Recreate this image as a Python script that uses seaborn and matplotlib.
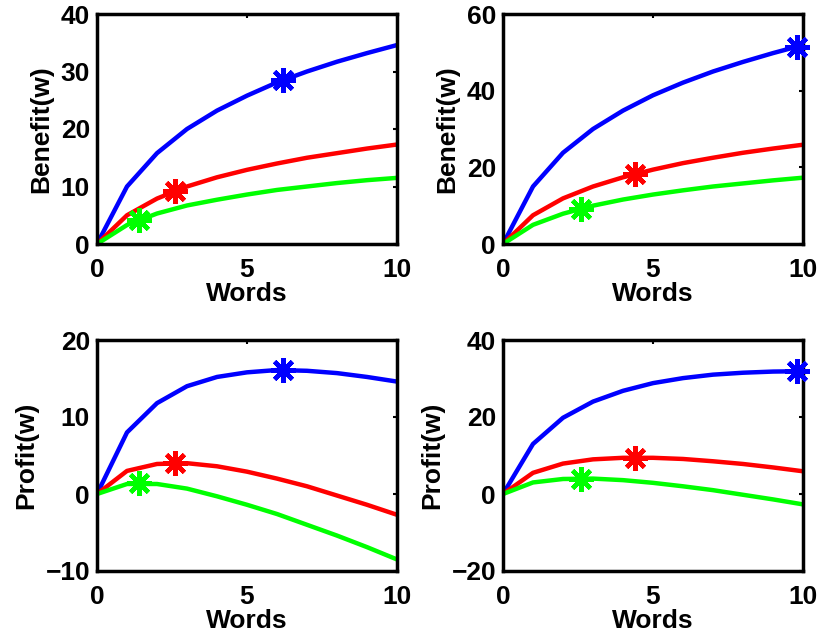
import numpy as np
import pandas as pd
import matplotlib
matplotlib.use('Agg')
import matplotlib.pyplot as plt
import seaborn as sns

# number of words (x axis)
words = [0, 1, 2, 3, 4, 5, 6, 7, 8, 9, 10]

# benefit curves, left panel
ben_left_blue = [0, 10.0, 15.8, 20.0, 23.2, 25.8, 28.1, 30.0, 31.7, 33.2, 34.6]
ben_left_red = [0, 5.0, 7.9, 10.0, 11.6, 12.9, 14.0, 15.0, 15.8, 16.6, 17.3]
ben_left_green = [0, 3.3, 5.3, 6.7, 7.7, 8.6, 9.4, 10.0, 10.6, 11.1, 11.5]

# benefit curves, right panel
ben_right_blue = [0, 15.0, 23.8, 30.0, 34.8, 38.8, 42.1, 45.0, 47.5, 49.8, 51.9]
ben_right_red = [0, 7.5, 11.9, 15.0, 17.4, 19.4, 21.1, 22.5, 23.8, 24.9, 25.9]
ben_right_green = [0, 5.0, 7.9, 10.0, 11.6, 12.9, 14.0, 15.0, 15.8, 16.6, 17.3]

# profit curves
prof_left_blue = [0, 8.0, 11.8, 14.0, 15.2, 15.8, 16.1, 16.0, 15.7, 15.2, 14.6]
prof_left_red = [0, 3.0, 3.9, 4.0, 3.6, 2.9, 2.0, 1.0, -0.2, -1.4, -2.7]
prof_left_green = [0, 1.3, 1.3, 0.7, -0.3, -1.4, -2.6, -4.0, -5.4, -6.9, -8.5]

prof_right_blue = [0, 13.0, 19.8, 24.0, 26.8, 28.8, 30.1, 31.0, 31.5, 31.8, 31.9]
prof_right_red = [0, 5.5, 7.9, 9.0, 9.4, 9.4, 9.1, 8.5, 7.8, 6.9, 5.9]
prof_right_green = [0, 3.0, 3.9, 4.0, 3.6, 2.9, 2.0, 1.0, -0.2, -1.4, -2.7]

# optimum points (asterisks)
opt_left_x = [6.2, 2.6, 1.4]
opt_left_ben = [28.5, 9.25, 4.2]
opt_left_prof = [16.1, 4.0, 1.4]
opt_right_x = [9.8, 4.4, 2.6]
opt_right_ben = [51.5, 18.3, 9.25]
opt_right_prof = [31.9, 9.4, 4.0]

series = ['blue', 'red', 'green']
colors = {'blue': (0, 0, 1), 'red': (1, 0, 0), 'green': (0, 1, 0)}

sns.set_style('white')
plt.rcParams['font.family'] = ['Liberation Sans', 'DejaVu Sans']
plt.rcParams['font.weight'] = 'bold'
plt.rcParams['font.size'] = 19
plt.rcParams['text.color'] = 'black'
plt.rcParams['axes.labelcolor'] = 'black'
plt.rcParams['xtick.color'] = 'black'
plt.rcParams['ytick.color'] = 'black'


def make_df(b, r, g):
    return pd.DataFrame({
        'Words': words * 3,
        'val': b + r + g,
        'curve': ['blue'] * 11 + ['red'] * 11 + ['green'] * 11,
    })


fig = plt.figure(figsize=(8.19, 6.35), dpi=100)
W = 300 / 819
boxes = [
    (97 / 819, (635 - 244) / 635, W, 230 / 635),
    (503 / 819, (635 - 244) / 635, W, 230 / 635),
    (97 / 819, (635 - 571) / 635, W, 231 / 635),
    (503 / 819, (635 - 571) / 635, W, 231 / 635),
]
panels = [
    (make_df(ben_left_blue, ben_left_red, ben_left_green), opt_left_x, opt_left_ben,
     'Benefit(w)', (0, 40), [0, 10, 20, 30, 40]),
    (make_df(ben_right_blue, ben_right_red, ben_right_green), opt_right_x, opt_right_ben,
     'Benefit(w)', (0, 60), [0, 20, 40, 60]),
    (make_df(prof_left_blue, prof_left_red, prof_left_green), opt_left_x, opt_left_prof,
     'Profit(w)', (-10, 20), [-10, 0, 10, 20]),
    (make_df(prof_right_blue, prof_right_red, prof_right_green), opt_right_x, opt_right_prof,
     'Profit(w)', (-20, 40), [-20, 0, 20, 40]),
]

for box, (df, ox, oy, ylab, ylim, yticks) in zip(boxes, panels):
    ax = fig.add_axes(box)
    sns.lineplot(data=df, x='Words', y='val', hue='curve', palette=colors,
                 linewidth=3.2, legend=False, ax=ax)
    for i, s in enumerate(series):
        ax.plot(ox[i], oy[i], marker=(8, 2, 0), markersize=18, mew=3.2,
                color=colors[s], clip_on=False, zorder=5)
    ax.set_xlim(0, 10)
    ax.set_ylim(*ylim)
    ax.set_xticks([0, 5, 10])
    ax.set_yticks(yticks)
    ax.set_xlabel('Words', fontweight='bold', fontsize=19, labelpad=0)
    ax.set_ylabel(ylab, fontweight='bold', fontsize=19, labelpad=5)
    ax.tick_params(direction='in', length=3, width=1.5, top=True, right=True,
                   labelsize=19, color='black')
    ax.tick_params(axis='x', pad=10)
    ax.tick_params(axis='y', pad=5)
    for lbl in ax.get_xticklabels() + ax.get_yticklabels():
        lbl.set_fontweight('bold')
    for sp in ax.spines.values():
        sp.set_linewidth(2.5)
        sp.set_color('black')

fig.savefig('out.png', dpi=100)
